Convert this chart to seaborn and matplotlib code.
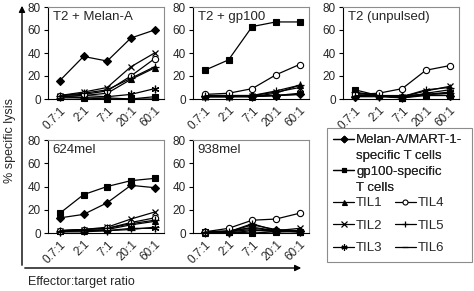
import numpy as np
import pandas as pd
import seaborn as sns
import matplotlib
matplotlib.use("Agg")
import matplotlib.pyplot as plt
from matplotlib.lines import Line2D
from matplotlib.patches import Rectangle

# ---------------- data ----------------
ratios = ["0.7:1", "2:1", "7:1", "20:1", "60:1"]
panel_titles = ["T2 + Melan-A", "T2 + gp100", "T2 (unpulsed)", "624mel", "938mel"]
series_names = ["Melan-A/MART-1-specific T cells", "gp100-specific T cells",
                "TIL1", "TIL2", "TIL3", "TIL4", "TIL5", "TIL6"]

# each list: one row per panel (T2+Melan-A, T2+gp100, T2 unpulsed, 624mel, 938mel)
melan = [[16, 37, 33, 53, 60], [3, 3, 3, 3, 4], [2, 3, 2, 4, 3], [13, 16, 26, 41, 39], [1, 1, 7, 3, 2]]
gp100 = [[2, 1, 0, 0, 2], [25, 34, 63, 67, 67], [8, 3, 1, 3, 3], [17, 33, 40, 45, 47], [1, 1, 0, 1, 1]]
til1 = [[2, 3, 5, 17, 27], [3, 3, 2, 5, 12], [5, 3, 1, 5, 8], [2, 2, 3, 7, 10], [0, 1, 5, 2, 1]]
til2 = [[3, 6, 10, 28, 40], [2, 2, 3, 6, 10], [3, 3, 2, 7, 11], [2, 3, 5, 12, 18], [1, 2, 4, 2, 4]]
til3 = [[2, 3, 2, 4, 9], [2, 2, 2, 3, 5], [2, 2, 1, 4, 6], [1, 2, 2, 4, 4], [1, 0, 2, 2, 1]]
til4 = [[3, 4, 7, 20, 35], [4, 5, 9, 21, 30], [4, 5, 9, 25, 29], [2, 3, 4, 9, 13], [1, 4, 11, 12, 17]]
til5 = [[3, 5, 8, 18, 28], [3, 3, 3, 7, 12], [6, 3, 2, 8, 10], [2, 3, 4, 8, 11], [0, 1, 8, 2, 2]]
til6 = [[1, 1, 1, 0, 0], [2, 2, 2, 3, 4], [3, 3, 3, 4, 5], [1, 1, 2, 3, 5], [1, 1, 3, 1, 2]]

all_series = [melan, gp100, til1, til2, til3, til4, til5, til6]

rows = []
for s_name, s_vals in zip(series_names, all_series):
    for p_idx, p_name in enumerate(panel_titles):
        for r_idx, r in enumerate(ratios):
            rows.append(dict(series=s_name, panel=p_name, pos=r_idx, ratio=r,
                             lysis=s_vals[p_idx][r_idx]))
df = pd.DataFrame(rows)

# ---------------- styles ----------------
styles = {
    "Melan-A/MART-1-specific T cells": dict(marker="D", ms=4.2, mfc="black", mec="black", mew=0.8),
    "gp100-specific T cells": dict(marker="s", ms=4.2, mfc="black", mec="black", mew=0.8),
    "TIL1": dict(marker="^", ms=4.5, mfc="black", mec="black", mew=0.8),
    "TIL2": dict(marker="x", ms=5.0, mfc="black", mec="black", mew=0.9),
    "TIL3": dict(marker=(6, 2, 0), ms=5.5, mfc="black", mec="black", mew=0.9),
    "TIL4": dict(marker="o", ms=4.5, mfc="white", mec="black", mew=0.8),
    "TIL5": dict(marker="+", ms=5.5, mfc="black", mec="black", mew=0.9),
    "TIL6": dict(marker="_", ms=5.5, mfc="black", mec="black", mew=0.9),
}

sns.set_theme(style="white")
plt.rcParams["font.family"] = ["Liberation Sans", "DejaVu Sans"]

W, H = 474, 291
fig = plt.figure(figsize=(W / 100, H / 100), dpi=100)

def fx(px):
    return px / W

def fy(py):
    return 1 - py / H

panel_w = 116
boxes = [  # left, top, bottom in pixels
    (48, 7, 99), (193, 7, 99), (343, 7, 99),
    (48, 140, 233), (193, 140, 233),
]

for p_name, (l, t, b) in zip(panel_titles, boxes):
    ax = fig.add_axes([fx(l), fy(b), panel_w / W, (b - t) / H])
    sub = df[df.panel == p_name]
    for s_name in series_names:
        d = sub[sub.series == s_name]
        st = styles[s_name]
        sns.lineplot(data=d, x="pos", y="lysis", ax=ax, color="black", lw=0.9,
                     marker=st["marker"], markersize=st["ms"], markerfacecolor=st["mfc"],
                     markeredgecolor=st["mec"], markeredgewidth=st["mew"],
                     legend=False, clip_on=False, zorder=3)
    ax.set_xlim(-0.5, 4.4)
    ax.set_ylim(0, 80)
    ax.set_yticks([0, 20, 40, 60, 80])
    ax.set_xticks(range(len(ratios)))
    ax.set_xticklabels(ratios, rotation=45, ha="right", rotation_mode="anchor")
    ax.set_xlabel("")
    ax.set_ylabel("")
    ax.tick_params(axis="y", length=3, width=0.8, color="black", labelsize=8.5, pad=2, left=True)
    ax.tick_params(axis="x", length=0, labelsize=8.5, pad=4)
    for side in ["left", "bottom"]:
        ax.spines[side].set_color("black")
        ax.spines[side].set_linewidth(0.8)
    for side in ["top", "right"]:
        ax.spines[side].set_color("#8c8c8c")
        ax.spines[side].set_linewidth(0.8)
    ax.grid(False)
    ax.set_facecolor("white")
    ax.text(0.04, 0.96, p_name, transform=ax.transAxes, ha="left", va="top", fontsize=9.5)

# axis arrows
fig.add_artist(matplotlib.patches.FancyArrowPatch(
    (fx(22), fy(268)), (fx(22), fy(3)), transform=fig.transFigure,
    arrowstyle="-|>", mutation_scale=9, lw=1.0, color="black"))
fig.add_artist(matplotlib.patches.FancyArrowPatch(
    (fx(22), fy(268)), (fx(304), fy(268)), transform=fig.transFigure,
    arrowstyle="-|>", mutation_scale=9, lw=1.0, color="black"))

fig.text(fx(10), fy(140), "% specific lysis", rotation=90, ha="center", va="center", fontsize=9)
fig.text(fx(28), fy(282), "Effector:target ratio", ha="left", va="center", fontsize=9)

# legend box
fig.add_artist(Rectangle((fx(327), fy(262)), (472 - 327) / W, (262 - 128) / H,
                         transform=fig.transFigure, fill=False, edgecolor="#8c8c8c", lw=0.8))

def handle(name):
    st = styles[name]
    return Line2D([], [], color="black", lw=0.9, marker=st["marker"], markersize=st["ms"] * 0.8,
                  markerfacecolor=st["mfc"], markeredgecolor=st["mec"], markeredgewidth=st["mew"])

blank = Line2D([], [], color="none", lw=0)
leg1 = fig.legend([handle(series_names[0]), blank, handle(series_names[1]), blank],
                  ["Melan-A/MART-1-", "specific T cells", "gp100-specific", "T cells"],
                  loc="upper left", bbox_to_anchor=(fx(333), fy(134)), frameon=False,
                  fontsize=9.5, handlelength=1.6, handletextpad=0.15, labelspacing=0.28,
                  borderaxespad=0, borderpad=0)
leg2 = fig.legend([handle(n) for n in series_names[2:]], series_names[2:],
                  loc="upper left", bbox_to_anchor=(fx(333), fy(197)), frameon=False, ncol=2,
                  fontsize=9.5, handlelength=1.6, handletextpad=0.15, labelspacing=0.78,
                  columnspacing=0.9, borderaxespad=0, borderpad=0)
fig.add_artist(leg1)

fig.savefig("out.png", dpi=100, facecolor="white")
